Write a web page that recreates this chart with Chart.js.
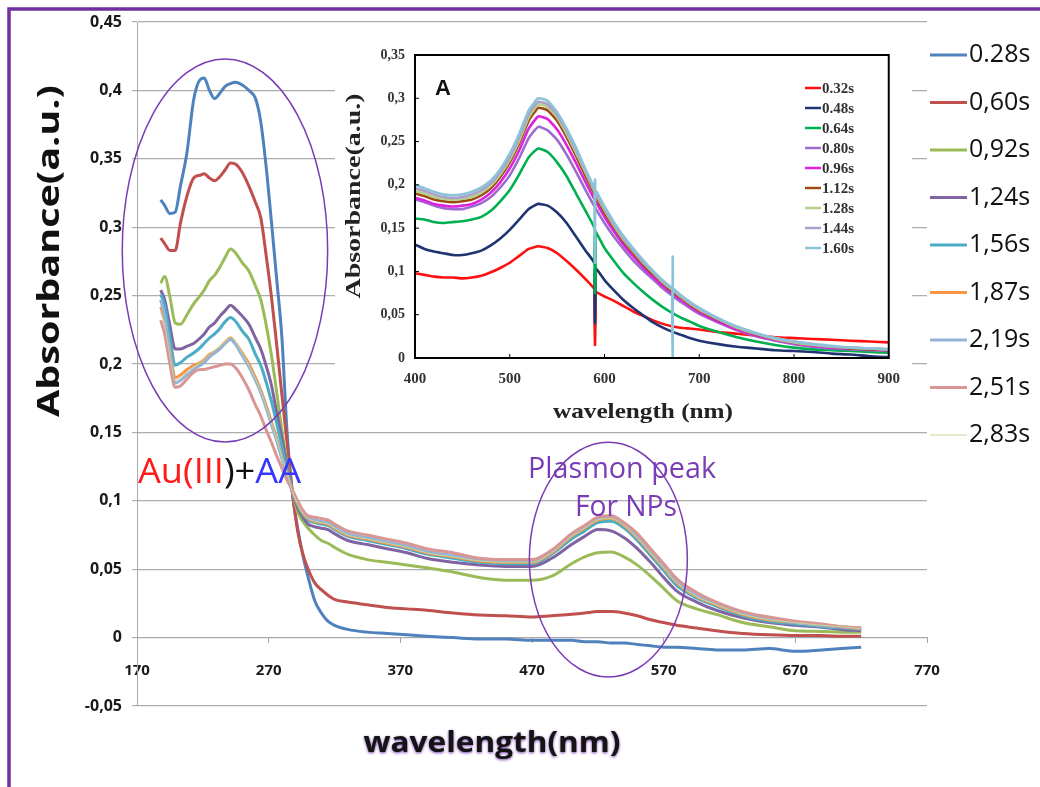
<!DOCTYPE html>
<html>
<head>
<meta charset="utf-8">
<script src="https://cdn.jsdelivr.net/npm/chart.js@4.4.1/dist/chart.umd.min.js"></script>
<style>
  html, body { margin: 0; padding: 0; background: #fff; }
  #wrap { position: relative; width: 1040px; height: 787px; overflow: hidden; }
  #main { position: absolute; left: 0; top: 0; }
  #inset { position: absolute; left: 335px; top: 28px; }
</style>
</head>
<body>
<div id="wrap">
  <canvas id="main" width="1040" height="787"></canvas>
  <canvas id="inset" width="577" height="400"></canvas>
</div>
<script>
// ---- main spectra: wavelength (nm) and absorbance for each reaction time ----
const mainNm = [188, 191, 195, 199, 203, 208, 213, 218, 221, 225, 229, 233, 237, 241, 245,
  250, 255, 260, 264, 268, 272, 276, 280, 284, 288, 292, 296, 300, 305, 310,
  315, 320, 330, 345, 360, 375, 390, 410, 430, 450, 470, 485, 500, 510, 520,
  530, 540, 550, 560, 570, 580, 595, 610, 630, 650, 670, 690, 705, 720];

const mainLabels = ["0.28s", "0,60s", "0,92s", "1,24s", "1,56s", "1,87s", "2,19s", "2,51s", "2,83s"];
const mainColors = ["#4f81bd", "#c0504d", "#9bbb59", "#8064a2", "#4bacc6", "#f79646", "#95b3d7", "#d99694", "#c3d69b"];

const abs028 = [0.320, 0.316, 0.310, 0.311, 0.330, 0.355, 0.393, 0.408, 0.409, 0.400, 0.394, 0.398, 0.403, 0.405, 0.406,
  0.404, 0.400, 0.394, 0.377, 0.345, 0.305, 0.263, 0.220, 0.150, 0.106, 0.080, 0.060, 0.044, 0.027, 0.018,
  0.012, 0.009, 0.006, 0.004, 0.003, 0.002, 0.001, 0.000, -0.001, -0.001, -0.002, -0.002, -0.002, -0.003, -0.003,
  -0.004, -0.004, -0.005, -0.006, -0.007, -0.007, -0.008, -0.009, -0.009, -0.008, -0.010, -0.009, -0.008, -0.007];
const abs060 = [0.292, 0.288, 0.283, 0.283, 0.303, 0.323, 0.336, 0.338, 0.339, 0.336, 0.334, 0.337, 0.342, 0.347, 0.346,
  0.340, 0.330, 0.318, 0.307, 0.280, 0.250, 0.215, 0.178, 0.142, 0.106, 0.078, 0.061, 0.050, 0.040, 0.035,
  0.031, 0.028, 0.026, 0.024, 0.022, 0.021, 0.020, 0.018, 0.0165, 0.016, 0.015, 0.016, 0.017, 0.018, 0.019,
  0.019, 0.018, 0.016, 0.013, 0.011, 0.009, 0.007, 0.005, 0.003, 0.002, 0.0015, 0.0015, 0.001, 0.001];
const abs092 = [0.259, 0.264, 0.249, 0.230, 0.229, 0.236, 0.244, 0.250, 0.254, 0.261, 0.265, 0.271, 0.278, 0.284, 0.281,
  0.274, 0.268, 0.257, 0.247, 0.229, 0.207, 0.180, 0.152, 0.127, 0.107, 0.092, 0.085, 0.080, 0.075, 0.071,
  0.069, 0.066, 0.061, 0.057, 0.055, 0.053, 0.051, 0.048, 0.044, 0.042, 0.042, 0.045, 0.054, 0.059, 0.062,
  0.0625, 0.059, 0.053, 0.045, 0.036, 0.027, 0.021, 0.017, 0.011, 0.008, 0.005, 0.0045, 0.004, 0.0039];
const abs124 = [0.254, 0.247, 0.228, 0.211, 0.211, 0.213, 0.215, 0.219, 0.222, 0.227, 0.230, 0.235, 0.239, 0.243, 0.240,
  0.235, 0.229, 0.219, 0.211, 0.199, 0.185, 0.165, 0.146, 0.125, 0.107, 0.095, 0.088, 0.083, 0.081, 0.080,
  0.079, 0.076, 0.071, 0.068, 0.065, 0.062, 0.058, 0.055, 0.053, 0.052, 0.052, 0.058, 0.068, 0.074, 0.079,
  0.078, 0.073, 0.065, 0.055, 0.044, 0.034, 0.026, 0.020, 0.0145, 0.011, 0.009, 0.0075, 0.006, 0.005];
const abs156 = [0.251, 0.243, 0.220, 0.199, 0.201, 0.205, 0.208, 0.212, 0.215, 0.219, 0.222, 0.226, 0.231, 0.234, 0.231,
  0.224, 0.218, 0.207, 0.199, 0.187, 0.173, 0.157, 0.140, 0.122, 0.107, 0.097, 0.090, 0.086, 0.084, 0.083,
  0.082, 0.079, 0.074, 0.071, 0.068, 0.065, 0.061, 0.058, 0.055, 0.054, 0.054, 0.061, 0.072, 0.078, 0.084,
  0.085, 0.080, 0.071, 0.060, 0.049, 0.038, 0.029, 0.023, 0.016, 0.012, 0.010, 0.008, 0.007, 0.006];
const abs187 = [0.242, 0.232, 0.210, 0.190, 0.192, 0.196, 0.199, 0.201, 0.203, 0.207, 0.209, 0.212, 0.216, 0.219, 0.215,
  0.208, 0.200, 0.190, 0.181, 0.170, 0.158, 0.146, 0.132, 0.119, 0.107, 0.098, 0.091, 0.087, 0.085, 0.084,
  0.083, 0.080, 0.075, 0.072, 0.069, 0.066, 0.062, 0.059, 0.056, 0.055, 0.055, 0.062, 0.074, 0.080, 0.086,
  0.087, 0.082, 0.073, 0.062, 0.051, 0.040, 0.030, 0.024, 0.017, 0.013, 0.011, 0.009, 0.008, 0.0065];
const abs219 = [0.247, 0.235, 0.208, 0.186, 0.188, 0.192, 0.196, 0.199, 0.201, 0.205, 0.208, 0.211, 0.215, 0.218, 0.214,
  0.206, 0.198, 0.188, 0.179, 0.168, 0.156, 0.144, 0.131, 0.119, 0.107, 0.099, 0.092, 0.088, 0.086, 0.085,
  0.084, 0.081, 0.076, 0.073, 0.070, 0.067, 0.063, 0.060, 0.057, 0.056, 0.056, 0.063, 0.075, 0.081, 0.087,
  0.088, 0.083, 0.074, 0.063, 0.052, 0.041, 0.031, 0.025, 0.018, 0.014, 0.011, 0.009, 0.008, 0.007];
const abs251 = [0.232, 0.222, 0.200, 0.183, 0.184, 0.189, 0.194, 0.196, 0.196, 0.197, 0.198, 0.199, 0.200, 0.200, 0.197,
  0.190, 0.181, 0.170, 0.162, 0.152, 0.143, 0.133, 0.124, 0.115, 0.108, 0.100, 0.093, 0.089, 0.088, 0.087,
  0.086, 0.083, 0.078, 0.075, 0.072, 0.069, 0.065, 0.062, 0.058, 0.057, 0.057, 0.064, 0.076, 0.082, 0.088,
  0.089, 0.084, 0.076, 0.065, 0.054, 0.043, 0.033, 0.026, 0.019, 0.015, 0.012, 0.010, 0.008, 0.007];
const abs283 = [0.238, 0.228, 0.206, 0.188, 0.190, 0.194, 0.198, 0.201, 0.203, 0.207, 0.210, 0.213, 0.216, 0.220, 0.216,
  0.208, 0.199, 0.189, 0.180, 0.169, 0.157, 0.145, 0.132, 0.120, 0.107, 0.098, 0.091, 0.087, 0.085, 0.084,
  0.083, 0.080, 0.075, 0.072, 0.069, 0.066, 0.062, 0.059, 0.056, 0.055, 0.055, 0.062, 0.074, 0.080, 0.086,
  0.087, 0.082, 0.073, 0.062, 0.051, 0.040, 0.030, 0.024, 0.017, 0.013, 0.011, 0.009, 0.008, 0.0065];
const mainValues = [abs028, abs060, abs092, abs124, abs156, abs187, abs219, abs251, abs283];

// ---- inset "A": wavelength (nm); repeated x = the vertical spikes of the original ----
const insetNm = [400, 410, 420, 430, 440, 450, 460, 470, 480, 490,
  500, 510, 520, 530, 540, 550, 560, 570, 580,
  590, 590, 590, 590,
  600, 610, 620, 630, 640, 650, 660, 670,
  672, 672, 672, 672,
  680, 690, 700, 720, 740, 760, 780, 800, 820, 840, 860, 880, 900];

const insetLabels = ["0.32s", "0.48s", "0.64s", "0.80s", "0.96s", "1.12s", "1.28s", "1.44s", "1.60s"];
const insetColors = ["#ff1010", "#1f3470", "#00b050", "#9b6bd0", "#dd22dd", "#9c4a12", "#b5cf8a", "#ad9fcc", "#8cc3d8"];

const ins032 = [0.098, 0.096, 0.094, 0.093, 0.093, 0.092, 0.093, 0.095, 0.099, 0.104,
  0.110, 0.118, 0.126, 0.129, 0.127, 0.121, 0.112, 0.102, 0.091,
  0.078, 0.015, 0.076, null,
  0.071, 0.066, 0.060, 0.054, 0.049, 0.044, 0.040, 0.037,
  null, null, null, null,
  0.035, 0.034, 0.033, 0.030, 0.028, 0.026, 0.024, 0.023, 0.022, 0.021, 0.020, 0.019, 0.018];
const ins048 = [0.131, 0.126, 0.123, 0.121, 0.119, 0.119, 0.121, 0.124, 0.130, 0.138,
  0.148, 0.160, 0.172, 0.178, 0.176, 0.168, 0.156, 0.140, 0.124,
  0.108, 0.040, 0.104, null,
  0.090, 0.078, 0.067, 0.058, 0.050, 0.042, 0.036, 0.031,
  null, null, null, null,
  0.027, 0.023, 0.020, 0.016, 0.013, 0.011, 0.009, 0.008, 0.007, 0.005, 0.004, 0.002, 0.001];
const ins064 = [0.161, 0.160, 0.157, 0.156, 0.157, 0.158, 0.160, 0.163, 0.170, 0.181,
  0.194, 0.212, 0.232, 0.242, 0.238, 0.226, 0.210, 0.190, 0.170,
  0.148, 0.075, 0.146, null,
  0.127, 0.112, 0.098, 0.087, 0.077, 0.068, 0.060, 0.053,
  null, null, null, null,
  0.047, 0.042, 0.037, 0.030, 0.024, 0.019, 0.015, 0.012, 0.010, 0.009, 0.008, 0.007, 0.006];
const ins080 = [0.183, 0.180, 0.176, 0.173, 0.172, 0.172, 0.175, 0.179, 0.186, 0.197,
  0.211, 0.231, 0.254, 0.267, 0.263, 0.252, 0.235, 0.215, 0.194,
  0.174, null, null, null,
  0.156, 0.140, 0.126, 0.113, 0.102, 0.092, 0.082, 0.073,
  null, null, null, null,
  0.065, 0.058, 0.051, 0.041, 0.032, 0.025, 0.020, 0.016, 0.013, 0.011, 0.010, 0.009, 0.008];
const ins096 = [0.185, 0.182, 0.178, 0.176, 0.175, 0.176, 0.178, 0.183, 0.191, 0.203,
  0.219, 0.240, 0.265, 0.279, 0.276, 0.264, 0.246, 0.225, 0.203,
  0.182, null, null, null,
  0.163, 0.146, 0.131, 0.118, 0.106, 0.095, 0.085, 0.076,
  null, null, null, null,
  0.068, 0.060, 0.053, 0.042, 0.033, 0.026, 0.021, 0.017, 0.014, 0.012, 0.011, 0.010, 0.009];
const ins112 = [0.190, 0.187, 0.183, 0.181, 0.180, 0.181, 0.183, 0.188, 0.196, 0.209,
  0.226, 0.248, 0.274, 0.289, 0.286, 0.274, 0.255, 0.233, 0.210,
  0.188, null, null, null,
  0.168, 0.151, 0.135, 0.122, 0.109, 0.098, 0.088, 0.078,
  null, null, null, null,
  0.070, 0.062, 0.055, 0.044, 0.035, 0.027, 0.022, 0.018, 0.015, 0.013, 0.011, 0.010, 0.009];
const ins128 = [0.193, 0.190, 0.186, 0.184, 0.183, 0.184, 0.186, 0.191, 0.199, 0.212,
  0.229, 0.251, 0.278, 0.293, 0.290, 0.278, 0.259, 0.237, 0.214,
  0.191, null, null, null,
  0.171, 0.153, 0.137, 0.124, 0.111, 0.100, 0.089, 0.080,
  null, null, null, null,
  0.071, 0.063, 0.056, 0.045, 0.035, 0.028, 0.022, 0.018, 0.015, 0.013, 0.012, 0.011, 0.010];
const ins144 = [0.196, 0.193, 0.189, 0.186, 0.185, 0.186, 0.189, 0.194, 0.202, 0.215,
  0.232, 0.255, 0.282, 0.296, 0.293, 0.281, 0.262, 0.240, 0.216,
  0.193, null, null, null,
  0.173, 0.155, 0.139, 0.125, 0.112, 0.101, 0.090, 0.081,
  null, null, null, null,
  0.072, 0.064, 0.057, 0.045, 0.036, 0.028, 0.023, 0.019, 0.016, 0.013, 0.012, 0.011, 0.010];
const ins160 = [0.200, 0.196, 0.192, 0.189, 0.188, 0.189, 0.192, 0.197, 0.205, 0.218,
  0.236, 0.259, 0.286, 0.300, 0.297, 0.284, 0.265, 0.243, 0.218,
  0.196, 0.206, 0.110, 0.194,
  0.175, 0.157, 0.141, 0.127, 0.114, 0.102, 0.091, 0.082,
  0.081, 0.117, 0.000, 0.080,
  0.073, 0.065, 0.058, 0.046, 0.036, 0.029, 0.023, 0.019, 0.016, 0.014, 0.012, 0.011, 0.010];
const insetValues = [ins032, ins048, ins064, ins080, ins096, ins112, ins128, ins144, ins160];

// rings drawn around the two regions (centre and half-axes in data units)
const uvRing = { nm: 236.8, abs: 0.283, dNm: 78, dAbs: 0.14 };
const plasmonRing = { nm: 528, abs: 0.057, dNm: 60, dAbs: 0.0858 };

const commaFmt = v => String(Math.round(v * 100) / 100).replace('.', ',');
const ringColor = '#7a3cb4';

function fitText(ctx, text, cx, cy, width, font, color, angle) {
  ctx.save();
  ctx.font = font;
  const w = ctx.measureText(text).width;
  ctx.translate(cx, cy);
  if (angle) ctx.rotate(angle);
  ctx.scale(width / w, 1);
  ctx.fillStyle = color;
  ctx.textAlign = 'center';
  ctx.textBaseline = 'middle';
  ctx.fillText(text, 0, 0);
  ctx.restore();
}

function colouredText(ctx, parts, x, baseline, width, font) {
  ctx.save();
  ctx.font = font;
  let total = 0;
  parts.forEach(p => { total += ctx.measureText(p[0]).width; });
  ctx.translate(x, baseline);
  ctx.scale(width / total, 1);
  ctx.textAlign = 'left';
  ctx.textBaseline = 'alphabetic';
  let at = 0;
  parts.forEach(p => {
    ctx.fillStyle = p[1];
    ctx.fillText(p[0], at, 0);
    at += ctx.measureText(p[0]).width;
  });
  ctx.restore();
}

function ring(chart, r) {
  const xs = chart.scales.x, ys = chart.scales.y, ctx = chart.ctx;
  const cx = xs.getPixelForValue(r.nm), cy = ys.getPixelForValue(r.abs);
  const rx = Math.abs(xs.getPixelForValue(r.nm + r.dNm) - cx);
  const ry = Math.abs(ys.getPixelForValue(r.abs + r.dAbs) - cy);
  ctx.beginPath();
  ctx.ellipse(cx, cy, rx, ry, 0, 0, Math.PI * 2);
  ctx.stroke();
}

const mainDecor = {
  id: 'mainDecor',
  beforeDraw(chart) {
    const ctx = chart.ctx;
    ctx.save();
    ctx.fillStyle = '#fff';
    ctx.fillRect(0, 0, chart.width, chart.height);
    ctx.restore();
  },
  afterDraw(chart) {
    const ctx = chart.ctx;
    ctx.save();
    ctx.strokeStyle = ringColor;
    ctx.lineWidth = 1.5;
    ring(chart, uvRing);
    ring(chart, plasmonRing);
    ctx.restore();

    colouredText(ctx, [["Au(III", "#ff1a1a"], [")+", "#111"], ["AA", "#3636ff"]], 138, 483, 163, '34px "Open Sans"');
    fitText(ctx, "Plasmon peak", 622, 469, 188, '30px "Open Sans"', ringColor);
    fitText(ctx, "For NPs", 626, 507, 102, '30px "Open Sans"', ringColor);

    // axis titles
    fitText(ctx, "Absorbance(a.u.)", 50, 251, 332, 'bold 31px "Open Sans"', '#111', -Math.PI / 2);
    ctx.save();
    ctx.shadowColor = '#7b3fb0';
    ctx.shadowBlur = 3;
    ctx.shadowOffsetY = 1;
    fitText(ctx, "wavelength(nm)", 492, 744, 257, 'bold 29px "Open Sans"', '#141414');
    ctx.restore();

    // legend
    ctx.save();
    chart.data.datasets.forEach((ds, i) => {
      const y = 55 + i * 47.5;
      ctx.strokeStyle = ds.borderColor;
      ctx.lineWidth = i === 8 ? 1 : 3;
      ctx.beginPath();
      ctx.moveTo(930, y);
      ctx.lineTo(967, y);
      ctx.stroke();
      ctx.fillStyle = '#111';
      ctx.font = '500 25px "Open Sans"';
      ctx.textBaseline = 'middle';
      ctx.fillText(ds.label, 969, y);
    });
    ctx.restore();

    // page frame
    ctx.save();
    ctx.strokeStyle = '#7030a0';
    ctx.lineWidth = 3.5;
    ctx.beginPath();
    ctx.moveTo(9, 787);
    ctx.lineTo(9, 9);
    ctx.lineTo(1040, 9);
    ctx.stroke();
    ctx.restore();
  }
};

new Chart(document.getElementById('main'), {
  type: 'line',
  data: {
    datasets: mainValues.map((vals, i) => ({
      label: mainLabels[i],
      data: mainNm.map((x, j) => ({ x: x, y: vals[j] })),
      borderColor: mainColors[i],
      borderWidth: i === 8 ? 1 : 3,
      pointRadius: 0,
      cubicInterpolationMode: 'monotone',
      order: mainValues.length - i
    }))
  },
  options: {
    responsive: false,
    animation: false,
    layout: { padding: { left: 0, top: 22, right: 113, bottom: 81 } },
    plugins: { legend: { display: false }, tooltip: { enabled: false } },
    scales: {
      x: {
        type: 'linear',
        min: 170,
        max: 770,
        position: { y: 0 },
        ticks: { stepSize: 100, padding: 19, color: '#1a1a1a', font: { family: 'Open Sans', size: 15, weight: 'bold' } },
        grid: { drawOnChartArea: false, tickLength: 5, color: '#a8a8a8' },
        border: { color: '#a8a8a8' },
        afterFit: s => { s.height = 0; }
      },
      y: {
        min: -0.05,
        max: 0.45,
        ticks: { stepSize: 0.05, padding: 10, callback: commaFmt, color: '#1a1a1a', font: { family: 'Open Sans', size: 16, weight: 'bold' } },
        grid: { color: '#adadad', lineWidth: 1.2, tickLength: 5 },
        border: { color: '#a8a8a8' },
        afterFit: s => { s.width = 137; }
      }
    }
  },
  plugins: [mainDecor]
});

const insetDecor = {
  id: 'insetDecor',
  beforeDraw(chart) {
    const ctx = chart.ctx;
    ctx.save();
    ctx.fillStyle = '#fff';
    ctx.fillRect(0, 0, chart.width, chart.height);
    ctx.restore();
  },
  afterDraw(chart) {
    const ctx = chart.ctx, a = chart.chartArea;
    const xs = chart.scales.x, ys = chart.scales.y;
    ctx.save();
    ctx.strokeStyle = '#000';
    ctx.lineWidth = 2;
    ctx.strokeRect(a.left, a.top, a.right - a.left, a.bottom - a.top);
    ctx.lineWidth = 1;
    ctx.beginPath();
    xs.ticks.forEach(t => {
      const px = xs.getPixelForValue(t.value);
      ctx.moveTo(px, a.bottom);
      ctx.lineTo(px, a.bottom - 4);
    });
    ys.ticks.forEach(t => {
      const py = ys.getPixelForValue(t.value);
      ctx.moveTo(a.left, py);
      ctx.lineTo(a.left + 4, py);
    });
    ctx.stroke();
    ctx.restore();

    ctx.save();
    ctx.font = 'bold 22px "Liberation Sans"';
    ctx.fillStyle = '#111';
    ctx.textAlign = 'center';
    ctx.textBaseline = 'middle';
    ctx.fillText("A", 108, 61);
    ctx.restore();
    fitText(ctx, "Absorbance(a.u.)", 20, 168, 205, 'bold 21px "Liberation Serif"', '#222', -Math.PI / 2);
    fitText(ctx, "wavelength (nm)", 308, 385, 180, 'bold 21px "Liberation Serif"', '#222');

    ctx.save();
    chart.data.datasets.forEach((ds, i) => {
      const y = 60 + i * 20;
      ctx.strokeStyle = ds.borderColor;
      ctx.lineWidth = 2.5;
      ctx.beginPath();
      ctx.moveTo(470, y);
      ctx.lineTo(486, y);
      ctx.stroke();
      ctx.fillStyle = '#333';
      ctx.font = 'bold 15px "Liberation Serif"';
      ctx.textBaseline = 'middle';
      ctx.fillText(ds.label, 487, y + 1);
    });
    ctx.restore();
  }
};

new Chart(document.getElementById('inset'), {
  type: 'line',
  data: {
    datasets: insetValues.map((vals, i) => ({
      label: insetLabels[i],
      data: insetNm.map((x, j) => ({ x: x, y: vals[j] })),
      borderColor: insetColors[i],
      borderWidth: 2.6,
      pointRadius: 0,
      tension: 0.15,
      spanGaps: true,
      order: insetValues.length - i
    }))
  },
  options: {
    responsive: false,
    animation: false,
    layout: { padding: { left: 0, top: 27, right: 16, bottom: 0 } },
    plugins: { legend: { display: false }, tooltip: { enabled: false } },
    scales: {
      x: {
        type: 'linear',
        min: 400,
        max: 900,
        ticks: { stepSize: 100, padding: 12, color: '#333', font: { family: 'Liberation Serif', size: 15, weight: 'bold' } },
        grid: { display: false, drawTicks: false },
        border: { display: false },
        afterFit: s => { s.height = 70; }
      },
      y: {
        min: 0,
        max: 0.35,
        ticks: { stepSize: 0.05, padding: 10, callback: commaFmt, color: '#333', font: { family: 'Liberation Serif', size: 14, weight: 'bold' } },
        grid: { display: false, drawTicks: false },
        border: { display: false },
        afterFit: s => { s.width = 80; }
      }
    }
  },
  plugins: [insetDecor]
});
</script>
</body>
</html>
